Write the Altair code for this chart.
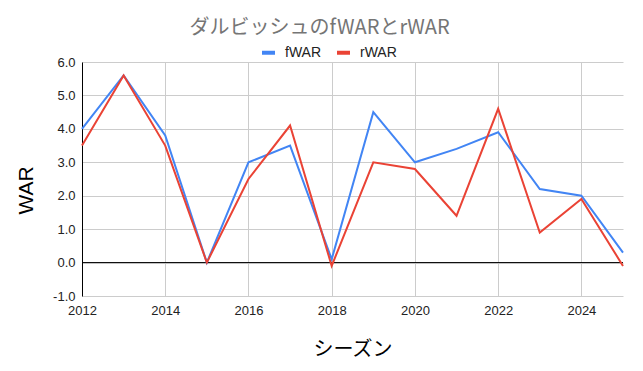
import altair as alt
import pandas as pd

years = [2012, 2013, 2014, 2015, 2016, 2017, 2018, 2019, 2020, 2021, 2022, 2023, 2024, 2025]
fwar = [4.0, 5.6, 3.8, 0.0, 3.0, 3.5, 0.1, 4.5, 3.0, 3.4, 3.9, 2.2, 2.0, 0.3]
rwar = [3.5, 5.6, 3.5, 0.0, 2.5, 4.1, -0.1, 3.0, 2.8, 1.4, 4.6, 0.9, 1.9, -0.1]
series_names = ["fWAR", "rWAR"]
series_colors = ["#4285F4", "#EA4335"]
x_ticks = [2012, 2014, 2016, 2018, 2020, 2022, 2024]
y_ticks = [-1, 0, 1, 2, 3, 4, 5, 6]

rows = []
for y, f, r in zip(years, fwar, rwar):
    rows.append({"year": y, "series": "fWAR", "value": f})
    rows.append({"year": y, "series": "rWAR", "value": r})
df = pd.DataFrame(rows)

FONT = "Liberation Sans"
JP = "Noto Sans CJK JP"

x_scale = alt.Scale(domain=[2012, 2025], nice=False, zero=False)
y_scale = alt.Scale(domain=[-1, 6], nice=False, zero=False)

x_enc = alt.X(
    "year:Q",
    scale=x_scale,
    axis=alt.Axis(
        values=x_ticks, format="d", title="シーズン", domain=False, ticks=False,
        grid=True, gridColor="#cccccc", labelFont=FONT, labelFontSize=13,
        labelColor="#222222", labelPadding=8, labelFlush=False, labelOverlap=False,
        titleFont=JP, titleFontSize=20,
        titleFontWeight="normal", titleColor="#000000", titleY=53,
        titleBaseline="middle",
    ),
)
y_enc = alt.Y(
    "value:Q",
    scale=y_scale,
    axis=alt.Axis(
        values=y_ticks, labelExpr="replace(format(datum.value, '.1f'), '\u2212', '-')",
        title="WAR", domain=True, domainColor="#000000",
        ticks=False, grid=True, gridColor="#cccccc", labelFont=FONT, labelFontSize=13,
        labelColor="#222222", labelPadding=7, labelOverlap=False, labelFlush=False,
        labelBound=False,
        titleFont=FONT, titleFontSize=21,
        titleFontWeight="normal", titleColor="#000000", titleX=-56, titleY=128,
        titleAngle=270, titleAlign="center", titleBaseline="middle",
    ),
)

lines = alt.Chart(df).mark_line(strokeWidth=2).encode(
    x=x_enc,
    y=y_enc,
    color=alt.Color(
        "series:N",
        scale=alt.Scale(domain=series_names, range=series_colors),
        legend=alt.Legend(
            title=None, orient="none", legendX=178, legendY=-18, direction="horizontal",
            symbolType="stroke", symbolSize=169, symbolStrokeWidth=4,
            labelFont=FONT, labelFontSize=14, labelColor="#222222",
            columnPadding=7, labelOffset=8,
        ),
    ),
)

zero_df = pd.DataFrame({"value": [0]})
zero = alt.Chart(zero_df).mark_rule(color="#000000", strokeWidth=1).encode(y=y_enc)

chart = alt.layer(zero, lines).properties(
    width=541,
    height=234,
    autosize=alt.AutoSizeParams(type="none"),
    padding={"left": 74, "top": 54, "right": 12, "bottom": 67},
    title=alt.Title(
        "ダルビッシュのfWARとrWAR", font=JP, fontSize=20, fontWeight="normal",
        color="#757575", anchor="middle", dx=-33, offset=6,
    ),
).configure_view(stroke=None).configure_axis(labelOverlap=False)

chart.save("out.html", embed_options={"renderer": "svg", "actions": False})
